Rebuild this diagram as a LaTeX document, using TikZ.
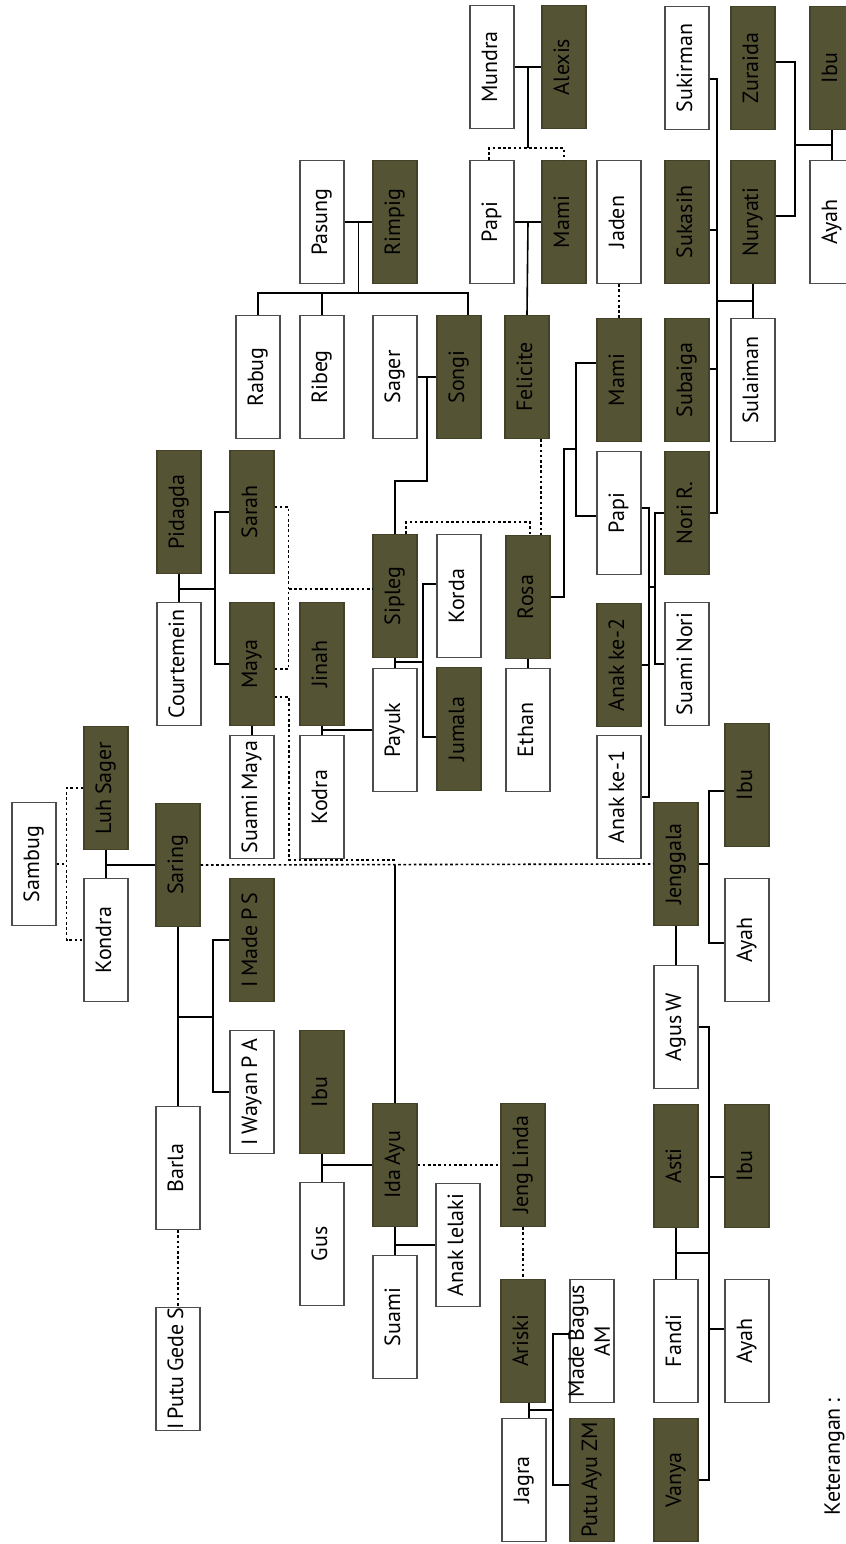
\documentclass[tikz,border=0pt]{standalone}
\usepackage{fontspec}
\setmainfont[WordSpace=0.75]{PT Sans}
\usepackage{graphicx}
\usetikzlibrary{calc}

\definecolor{zaitun}{RGB}{84,83,51}
\newcommand{\vtext}[1]{\rotatebox{90}{\strut #1}}

\tikzset{
  kotak/.style={draw=black!70, line width=0.6pt, minimum width=22pt, minimum height=61.5pt,
    inner sep=0pt, font=\fontsize{11}{13}\selectfont},
  laki/.style={kotak, fill=white},
  perempuan/.style={kotak, fill=zaitun, draw=zaitun!80!black},
  garis/.style={line width=0.8pt},
  putus/.style={line width=0.8pt, dash pattern=on 1.3pt off 1.3pt},
}

\begin{document}
\begin{tikzpicture}[x=0.5pt,y=-0.5pt]
\useasboundingbox (0,0) rectangle (846,1544);

% kiri
\node[laki] (sambug) at (34,864) {\vtext{Sambug}};
\node[perempuan] (luhsager) at (106,788) {\vtext{Luh Sager}};
\node[laki] (kondra) at (106,940) {\vtext{Kondra}};
\node[perempuan] (saring) at (178,865) {\vtext{Saring}};
\node[perempuan] (imadeps) at (252,940) {\vtext{I Made P S}};
\node[laki] (iwayanpa) at (252,1092) {\vtext{I Wayan P A}};
\node[laki] (barla) at (178,1168) {\vtext{Barla}};
\node[laki] (iputu) at (178,1369) {\vtext{I Putu Gede S}};
\node[perempuan] (ibua) at (322,1092) {\vtext{Ibu}};
\node[laki] (gus) at (322,1244) {\vtext{Gus}};
\node[perempuan] (idaayu) at (395,1165) {\vtext{Ida Ayu}};
\node[laki] (suami) at (395,1317) {\vtext{Suami}};
\node[laki] (anaklelaki) at (458,1245) {\vtext{Anak lelaki}};
\node[perempuan] (jenglinda) at (523,1165) {\vtext{Jeng Linda}};
\node[perempuan] (ariski) at (523,1341) {\vtext{Ariski}};
\node[laki] (madebagus) at (592,1341) {\vtext{\smash{\begin{tabular}{@{}c@{}}Made Bagus\\AM\end{tabular}}}};
\node[laki] (jagra) at (524,1480) {\vtext{Jagra}};
\node[perempuan] (putuayu) at (592,1480) {\vtext{Putu Ayu ZM}};

% kanan bawah
\node[perempuan] (jenggala) at (676,864) {\vtext{Jenggala}};
\node[perempuan] (ibub) at (747,785) {\vtext{Ibu}};
\node[laki] (ayahb) at (747,940) {\vtext{Ayah}};
\node[laki] (agusw) at (676,1027) {\vtext{Agus W}};
\node[perempuan] (asti) at (676,1166) {\vtext{Asti}};
\node[perempuan] (ibuc) at (747,1166) {\vtext{Ibu}};
\node[laki] (fandi) at (676,1341) {\vtext{Fandi}};
\node[laki] (ayahc) at (747,1341) {\vtext{Ayah}};
\node[perempuan] (vanya) at (676,1480) {\vtext{Vanya}};

% kanan atas
\node[laki] (anakke1) at (619,797) {\vtext{Anak ke-1}};
\node[perempuan] (anakke2) at (619,665) {\vtext{Anak ke-2}};
\node[laki] (papib) at (619,513) {\vtext{Papi}};
\node[perempuan] (mamib) at (619,380) {\vtext{Mami}};
\node[laki] (jaden) at (619,222) {\vtext{Jaden}};
\node[perempuan] (nori) at (687,513) {\vtext{Nori R.}};
\node[laki] (suaminori) at (687,664) {\vtext{Suami Nori}};
\node[perempuan] (subaiga) at (687,380) {\vtext{Subaiga}};
\node[laki] (sulaiman) at (753,380) {\vtext{Sulaiman}};
\node[perempuan] (sukasih) at (687,222) {\vtext{Sukasih}};
\node[perempuan] (nuryati) at (753,222) {\vtext{Nuryati}};
\node[laki] (sukirman) at (687,68) {\vtext{Sukirman}};
\node[perempuan] (zuraida) at (753,68) {\vtext{Zuraida}};
\node[perempuan] (ibud) at (832,68) {\vtext{Ibu}};
\node[laki] (ayahd) at (832,222) {\vtext{Ayah}};

% atas
\node[laki] (mundra) at (492,67) {\vtext{Mundra}};
\node[perempuan] (alexis) at (564,67) {\vtext{Alexis}};
\node[laki] (papia) at (492,222) {\vtext{Papi}};
\node[perempuan] (mamia) at (564,222) {\vtext{Mami}};
\node[perempuan] (felicite) at (527,377) {\vtext{Felicite}};
\node[perempuan] (songi) at (459,377) {\vtext{Songi}};
\node[laki] (sager) at (395,377) {\vtext{Sager}};
\node[laki] (ribeg) at (322,377) {\vtext{Ribeg}};
\node[laki] (rabug) at (258,377) {\vtext{Rabug}};
\node[laki] (pasung) at (322,222) {\vtext{Pasung}};
\node[perempuan] (rimpig) at (395,222) {\vtext{Rimpig}};

% tengah
\node[perempuan] (pidagda) at (179,512) {\vtext{Pidagda}};
\node[perempuan] (sarah) at (252,512) {\vtext{Sarah}};
\node[laki] (courtemein) at (179,664) {\vtext{Courtemein}};
\node[perempuan] (maya) at (252,664) {\vtext{Maya}};
\node[perempuan] (jinah) at (322,664) {\vtext{Jinah}};
\node[perempuan] (sipleg) at (395,596) {\vtext{Sipleg}};
\node[laki] (korda) at (459,596) {\vtext{Korda}};
\node[perempuan] (rosa) at (528,597) {\vtext{Rosa}};
\node[laki] (payuk) at (395,730) {\vtext{Payuk}};
\node[perempuan] (jumala) at (459,729) {\vtext{Jumala}};
\node[laki] (ethan) at (528,730) {\vtext{Ethan}};
\node[laki] (suamimaya) at (252,797) {\vtext{Suami Maya}};
\node[laki] (kodra) at (322,797) {\vtext{Kodra}};

\node[anchor=east, inner sep=0pt, font=\fontsize{11}{13}\selectfont] (ket) at (845,1457) {\rotatebox{90}{Keterangan :}};

% garis kiri
\draw[putus] (sambug.east) -- ++(10,0) coordinate (sb);
\draw[putus] (luhsager.west) -| (sb) |- (kondra.west);
\draw[garis] (luhsager.south) -- (kondra.north);
\draw[garis] (saring.west) -- (saring.west -| luhsager.south);
\draw[putus] (saring.east) -- (jenggala.west);
\draw[garis] (saring.south) -- (barla.north);
\coordinate (kb) at (213,1017);
\draw[garis] (imadeps.west) -| (kb) |- (iwayanpa.west);
\draw[garis] (kb) -- (kb -| saring.south);
\draw[putus] (barla.south) -- (iputu.north);
\draw[garis] (idaayu.north) -- (idaayu.north |- saring.east);
\draw[garis] (ibua.south) -- (gus.north);
\draw[garis] (idaayu.west) -- (idaayu.west -| ibua.south);
\draw[garis] (idaayu.south) -- (suami.north);
\draw[garis] (anaklelaki.west) -- (anaklelaki.west -| idaayu.south);
\draw[putus] (idaayu.east) -- (jenglinda.west);
\draw[putus] (jenglinda.south) -- (ariski.north);
\draw[garis] ($(ariski.south)+(6,0)$) -- ($(jagra.north)+(5,0)$);
\coordinate (aj) at (553,1410);
\draw[garis] ($(madebagus.west)+(0,-7)$) -| (aj) |- ($(putuayu.west)+(0,5)$);
\draw[garis] (aj) -- ++(-24,0);

% garis kanan bawah
\coordinate (jg) at (709,864);
\draw[garis] (jenggala.east) -- (jg);
\draw[garis] ($(ibub.west)+(0,6)$) -| (jg) |- ($(ayahb.west)+(0,3)$);
\draw[line width=1.1pt] (jenggala.south) -- (agusw.north);
\coordinate (aw) at (709,1253);
\draw[garis] (agusw.east) -| (aw) |- (vanya.east);
\draw[garis] ($(ibuc.west)+(0,11)$) -- ($(ibuc.west)+(-16,11)$);
\draw[garis] ($(ayahc.west)+(0,-12)$) -- ($(ayahc.west)+(-16,-12)$);
\draw[garis] (asti.south) -- (fandi.north);
\draw[garis] (aw) -- (aw -| asti.south);

% garis tengah
\draw[garis] (pidagda.south) -- (courtemein.north);
\coordinate (pc) at (215,589);
\draw[garis] (sarah.west) -| (pc) |- (maya.west);
\draw[garis] (pc) -- (pc -| pidagda.south);
\draw[garis] (maya.south) -- (suamimaya.north);
\draw[putus] ($(sarah.east)+(0,-5)$) -| ($(maya.east)+(14,5)$) -- ($(maya.east)+(0,5)$);
\coordinate (ms) at (289,589);
\draw[putus] (ms) -- (ms -| sipleg.west);
\coordinate (mk) at (289,860);
\draw[putus] ($(maya.east)+(0,33)$) -| (mk) -- (mk -| idaayu.north);
\draw[garis] (jinah.south) -- (kodra.north);
\draw[garis] (payuk.west) -- (payuk.west -| jinah.south);
\draw[garis] (sipleg.south) -- (payuk.north);
\coordinate (sp) at (423,662);
\draw[garis] ($(korda.west)+(0,-12)$) -| (sp) |- ($(jumala.west)+(0,8)$);
\draw[garis] (sp) -- (sp -| sipleg.south);
\draw[putus] ($(sipleg.north)+(11,0)$) -- ++(0,-12) -| ($(rosa.north)+(2,0)$);
\draw[putus] ($(felicite.south)+(14,0)$) -- ($(rosa.north)+(13,0)$);
\draw[garis] (rosa.south) -- (ethan.north);
\draw[garis] (sager.east) -- (songi.west);
\coordinate (ss) at ($(sager.east)!0.5!(songi.west)$);
\draw[garis] (ss) |- ($(sipleg.north)+(0,-53)$) -- (sipleg.north);

% garis atas
\draw[garis] (pasung.east) -- (rimpig.west);
\coordinate (pr) at ($(pasung.east)!0.5!(rimpig.west)$);
\coordinate (tp) at ($(pr)+(0,71)$);
\draw[garis] (pr) -- (tp);
\draw[garis] (rabug.north) |- (tp) -| ($(songi.north)+(9,0)$);
\draw[garis] (ribeg.north) -- (ribeg.north |- tp);
\draw[garis] (mundra.east) -- (alexis.west);
\coordinate (ma) at ($(mundra.east)!0.5!(alexis.west)$);
\draw[garis] (ma) -- ++(0,81) coordinate (mb);
\draw[putus] ($(papia.north)+(-3,0)$) |- (mb) -| (mamia.north);
\draw[garis] (papia.east) -- (mamia.west);
\draw[garis] ($(papia.east)!0.5!(mamia.west)$) -- (felicite.north);
\draw[putus] (jaden.south) -- (mamib.north);

% garis kanan atas
\coordinate (mp) at (576,449);
\draw[garis] ($(mamib.west)+(0,-17)$) -| (mp) |- ($(papib.west)+(0,3)$);
\draw[garis] (rosa.east) -| ($(mp)+(-12,0)$) -- (mp);
\coordinate (ak) at (649,587);
\coordinate (ns) at (655,587);
\draw[garis] ($(papib.east)+(0,-5)$) -| (ak) |- (anakke1.east);
\draw[garis] (anakke2.east) -- (anakke2.east -| ak);
\draw[garis] (nori.west) -| (ns) |- (suaminori.west);
\draw[garis] (ak) -- (ns);
\draw[garis] (nuryati.south) -- (sulaiman.north);
\coordinate (nsj) at ($(nuryati.south)!0.5!(sulaiman.north)$);
\coordinate (sk) at ($(nsj)+(-36,0)$);
\draw[garis] ($(sukirman.east)+(0,11)$) -| (sk) |- (nori.east);
\draw[garis] ($(sukasih.east)+(0,8)$) -- ($(sukasih.east)+(8,8)$);
\draw[garis] ($(subaiga.east)+(0,-11)$) -- ($(subaiga.east)+(8,-11)$);
\draw[garis] (sk) -- (nsj);
\draw[garis] (ibud.south) -- (ayahd.north);
\coordinate (ia) at ($(ibud.south)!0.5!(ayahd.north)$);
\coordinate (zn) at ($(ia)+(-37,0)$);
\draw[garis] ($(zuraida.east)+(0,-6)$) -| (zn) |- ($(nuryati.east)+(0,-6)$);
\draw[garis] (zn) -- (ia);

\end{tikzpicture}
\end{document}
